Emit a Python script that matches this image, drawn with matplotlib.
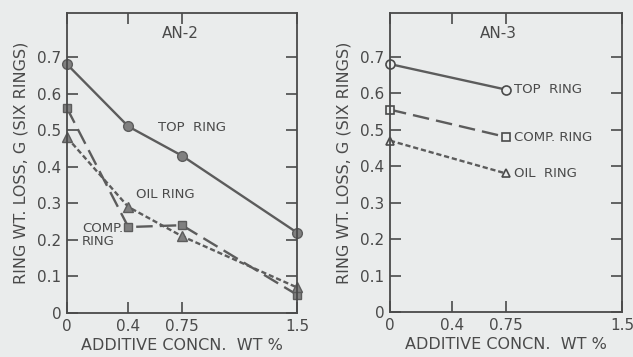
import matplotlib
matplotlib.use("Agg")
import matplotlib.pyplot as plt

# ---- data ----
x_an2 = [0, 0.4, 0.75, 1.5]
top_an2 = [0.68, 0.51, 0.43, 0.22]
comp_an2 = [0.56, 0.235, 0.24, 0.05]
oil_an2 = [0.48, 0.29, 0.21, 0.07]

x_an3 = [0, 0.75]
top_an3 = [0.68, 0.61]
comp_an3 = [0.555, 0.48]
oil_an3 = [0.47, 0.38]

xticks = [0, 0.4, 0.75, 1.5]
xticklabels = ["0", "0.4", "0.75", "1.5"]
yticks = [0, 0.1, 0.2, 0.3, 0.4, 0.5, 0.6, 0.7]
yticklabels = ["0", "0.1", "0.2", "0.3", "0.4", "0.5", "0.6", "0.7"]

BG = "#eaecec"
INK = "#4a4a4a"
LINE = "#5c5c5c"
FILL = "#808080"

plt.rcParams['font.family'] = ['DejaVu Sans']

fig = plt.figure(figsize=(6.33, 3.57), dpi=100, facecolor=BG)
ax1 = fig.add_axes([0.1058, 0.1232, 0.3633, 0.8403])
ax2 = fig.add_axes([0.6161, 0.1260, 0.3665, 0.8375])

for ax in (ax1, ax2):
    ax.set_facecolor(BG)
    ax.set_xlim(0, 1.5)
    ax.set_ylim(0, 0.82)
    ax.set_xticks(xticks)
    ax.set_xticklabels(xticklabels)
    ax.set_yticks(yticks)
    ax.set_yticklabels(yticklabels)
    ax.tick_params(axis='both', direction='in', length=8, width=1.2,
                   color=INK, labelcolor=INK, labelsize=11,
                   top=True, right=True, pad=4)
    for s in ax.spines.values():
        s.set_color(INK)
        s.set_linewidth(1.3)
    ax.set_xlabel("ADDITIVE CONCN.  WT %", fontsize=11.5, color=INK, labelpad=3)
    ax.set_ylabel("RING WT. LOSS, G (SIX RINGS)", fontsize=11.5, color=INK, labelpad=6)

# ---- AN-2 (filled markers) ----
ax1.plot(x_an2, top_an2, '-', color=LINE, lw=1.7, marker='o', ms=7,
         mfc=FILL, mec=LINE, clip_on=False)
ax1.plot(x_an2, comp_an2, '-', color=LINE, lw=1.7, dashes=(7, 3), marker='s', ms=6,
         mfc=FILL, mec=LINE, clip_on=False)
ax1.plot(x_an2, oil_an2, '-', color=LINE, lw=1.7, dashes=(2.2, 1.2), marker='^', ms=6.5,
         mfc=FILL, mec=LINE, clip_on=False)

ax1.text(0.737, 0.765, "AN-2", ha='center', va='center', fontsize=11, color=INK)
ax1.text(0.815, 0.506, "TOP  RING", ha='center', va='center', fontsize=9.5, color=INK)
ax1.text(0.64, 0.325, "OIL RING", ha='center', va='center', fontsize=9.5, color=INK)
ax1.text(0.098, 0.213, "COMP.\nRING", ha='left', va='center', fontsize=9.5, color=INK,
         linespacing=1.0)

# ---- AN-3 (open markers) ----
ax2.plot(x_an3, top_an3, '-', color=LINE, lw=1.7, marker='o', ms=6.5,
         mfc=BG, mec=INK, mew=1.2, clip_on=False)
ax2.plot(x_an3, comp_an3, '-', color=LINE, lw=1.7, dashes=(7, 3), marker='s', ms=5.5,
         mfc=BG, mec=INK, mew=1.2, clip_on=False)
ax2.plot(x_an3, oil_an3, '-', color=LINE, lw=1.7, dashes=(2.2, 1.2), marker='^', ms=6,
         mfc=BG, mec=INK, mew=1.2, clip_on=False)

ax2.text(0.70, 0.765, "AN-3", ha='center', va='center', fontsize=11, color=INK)
ax2.text(0.80, 0.61, "TOP  RING", ha='left', va='center', fontsize=9.5, color=INK)
ax2.text(0.80, 0.48, "COMP. RING", ha='left', va='center', fontsize=9.5, color=INK)
ax2.text(0.80, 0.38, "OIL  RING", ha='left', va='center', fontsize=9.5, color=INK)

fig.savefig("out.png", dpi=100, facecolor=BG)
